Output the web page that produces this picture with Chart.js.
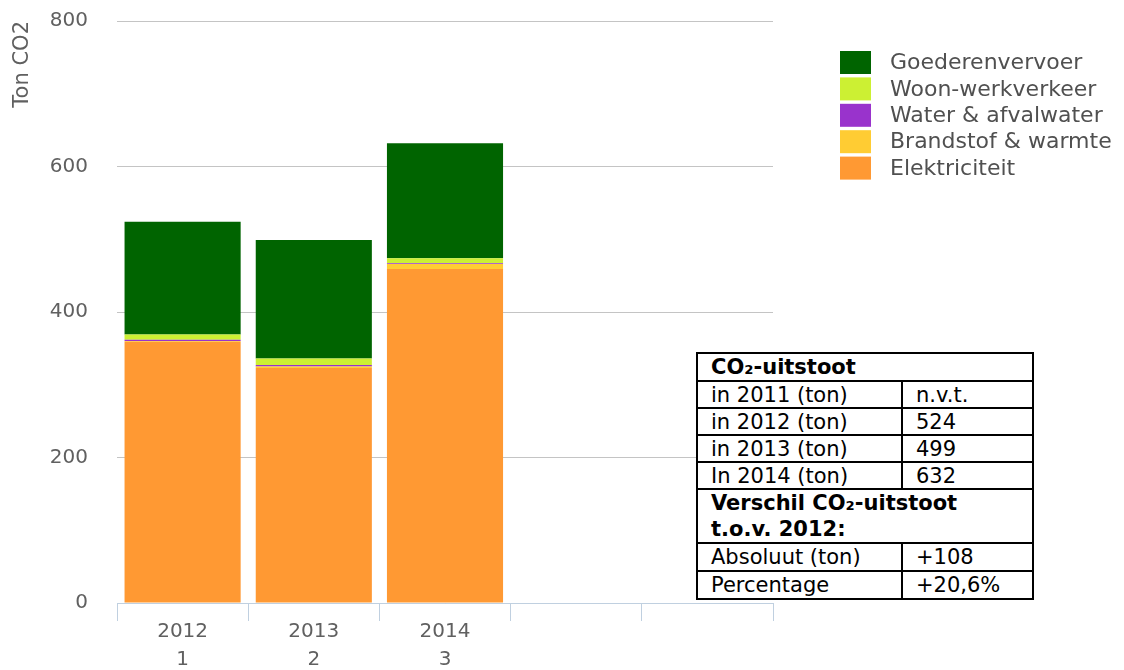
<!DOCTYPE html>
<html>
<head>
<meta charset="utf-8">
<script src="https://cdn.jsdelivr.net/npm/chart.js@4"></script>
<style>
  html, body { margin: 0; padding: 0; background: #fff; }
  #wrap { position: relative; width: 1124px; height: 670px; }
  #c { position: absolute; left: 0; top: 0; }
  #tbl {
    position: absolute; left: 696px; top: 352px; width: 338px;
    border-collapse: collapse; background: #fff;
    font-family: "DejaVu Sans", Verdana, sans-serif; font-size: 21px; color: #000;
  }
  #tbl td { border: 2px solid #000; padding: 0 0 0 13px; line-height: 24px; white-space: nowrap; }
  #tbl tr { height: 27px; }
  #tbl td.b { font-weight: bold; }
  #tbl td.two { line-height: 26px; }
  #tbl td.c1 { width: 190px; }
</style>
</head>
<body>
<div id="wrap">
  <canvas id="c" width="1124" height="670"></canvas>
  <table id="tbl"></table>
</div>
<script>
// ---- data ----
const categories = [['2012', '1'], ['2013', '2'], ['2014', '3'], '', ''];
const seriesNames = ['Elektriciteit', 'Brandstof & warmte', 'Water & afvalwater', 'Woon-werkverkeer', 'Goederenvervoer'];
const elektriciteit = [359, 323, 459];
const brandstof = [1, 2, 7];
const water = [2, 2, 1];
const woonWerk = [7, 9, 7];
const goederen = [155, 163, 158];
const seriesColors = ['#ff9933', '#ffcc33', '#9933cc', '#ccf033', '#006400'];
const yTicks = [0, 200, 400, 600, 800];

const tableTitle = 'CO\u2082-uitstoot';
const tableLabels = ['in 2011 (ton)', 'in 2012 (ton)', 'in 2013 (ton)', 'In 2014 (ton)'];
const tableValues = ['n.v.t.', '524', '499', '632'];
const diffTitle = ['Verschil CO\u2082-uitstoot', 't.o.v. 2012:'];
const diffLabels = ['Absoluut (ton)', 'Percentage'];
const diffValues = ['+108', '+20,6%'];

// ---- table ----
(function buildTable() {
  const t = document.getElementById('tbl');
  let h = '<tr style="height:28px"><td class="b" colspan="2">' + tableTitle + '</td></tr>';
  tableLabels.forEach((l, i) => {
    h += '<tr><td class="c1">' + l + '</td><td>' + tableValues[i] + '</td></tr>';
  });
  h += '<tr style="height:52px"><td class="b two" colspan="2">' + diffTitle.join('<br>') + '</td></tr>';
  diffLabels.forEach((l, i) => {
    h += '<tr style="height:28px"><td class="c1">' + l + '</td><td>' + diffValues[i] + '</td></tr>';
  });
  t.innerHTML = h;
})();

// ---- chart ----
const seriesData = [elektriciteit, brandstof, water, woonWerk, goederen];
const datasets = seriesNames.map((name, i) => ({
  label: name,
  data: seriesData[i],
  backgroundColor: seriesColors[i],
  borderWidth: 0,
  categoryPercentage: 1,
  barPercentage: 0.885
}));

const legendPlugin = {
  id: 'sideLegend',
  afterDraw(chart) {
    const ctx = chart.ctx;
    const ds = chart.data.datasets.slice().reverse();
    const x0 = 840, y0 = 51, rowH = 26.4, bw = 31, bh = 23;
    ctx.save();
    ctx.font = '22px "DejaVu Sans"';
    ctx.textBaseline = 'middle';
    ctx.textAlign = 'left';
    ds.forEach((d, i) => {
      const y = y0 + i * rowH;
      ctx.fillStyle = d.backgroundColor;
      ctx.fillRect(x0, y, bw, bh);
      ctx.fillStyle = '#505050';
      ctx.fillText(d.label, 890, y + bh / 2 + 1);
    });
    ctx.restore();
  }
};

new Chart(document.getElementById('c'), {
  type: 'bar',
  data: { labels: categories, datasets },
  plugins: [legendPlugin],
  options: {
    responsive: false,
    animation: false,
    devicePixelRatio: 1,
    layout: { padding: { left: 0, top: 21, right: 351, bottom: 0 } },
    plugins: { legend: { display: false }, tooltip: { enabled: false } },
    scales: {
      x: {
        stacked: true,
        grid: { offset: true, drawOnChartArea: false, tickLength: 18, color: '#c0d0e0', lineWidth: 1 },
        border: { display: true, color: '#c0d0e0', width: 1 },
        ticks: { font: { family: 'DejaVu Sans', size: 20, lineHeight: 1.4 }, color: '#606060', padding: -3, maxRotation: 0 },
        afterFit(s) { s.height = 67; s.paddingLeft = 0; s.paddingRight = 0; }
      },
      y: {
        stacked: true,
        min: 0, max: 800,
        afterBuildTicks(s) { s.ticks = yTicks.map(v => ({ value: v })); },
        grid: { color: '#c4c4c4', drawTicks: false, lineWidth: 1 },
        border: { display: false },
        ticks: { font: { family: 'DejaVu Sans', size: 20 }, color: '#606060', padding: 29 },
        title: { display: true, text: 'Ton CO2', align: 'end', font: { family: 'DejaVu Sans', size: 21 }, color: '#606060', padding: { top: 10, bottom: 0 } },
        afterFit(s) { s.width = 117; s.paddingTop = 0; s.paddingBottom = 0; }
      }
    }
  }
});
</script>
</body>
</html>
